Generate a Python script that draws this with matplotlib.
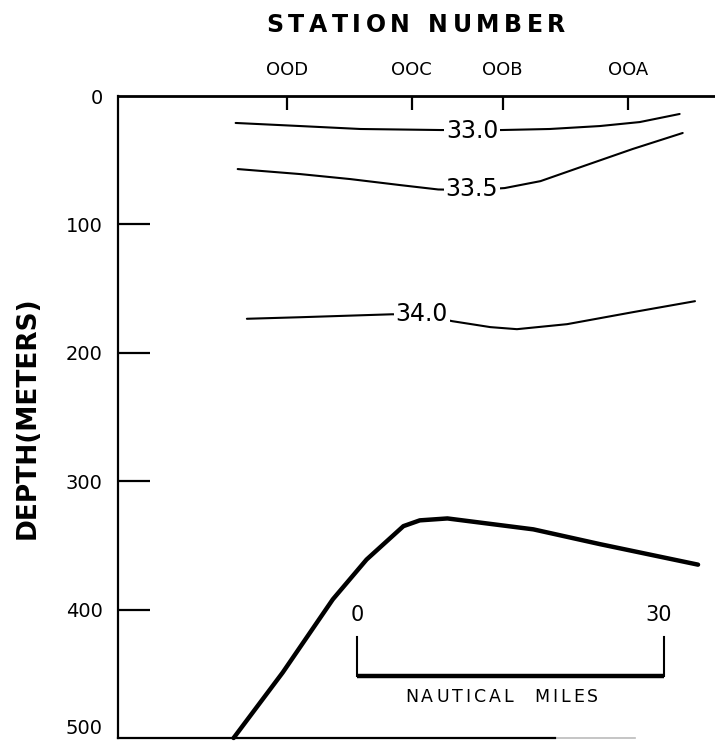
import matplotlib
matplotlib.use("Agg")
import matplotlib.pyplot as plt

# ---------------- data (x: nautical miles from left edge, y: depth in m) ----
stations = ["OOD", "OOC", "OOB", "OOA"]
station_x = [16.5, 28.7, 37.6, 49.9]

depth_ticks = [0, 100, 200, 300, 400, 500]

c330_x = [11.5, 17.8, 23.7, 31.5, 37.5, 42.2, 47.1, 51.0, 54.9]
c330_d = [21.0, 23.4, 25.7, 26.5, 26.5, 25.7, 23.4, 20.3, 14.0]

c335_x = [11.7, 17.8, 22.7, 27.6, 31.3, 34.6, 37.8, 41.3, 45.5, 50.3, 55.2]
c335_d = [56.9, 60.8, 64.7, 69.4, 72.8, 73.3, 71.7, 66.3, 54.6, 41.3, 28.8]

c340_x = [12.6, 17.8, 26.8, 29.7, 32.7, 36.4, 39.0, 43.9, 50.3, 56.4]
c340_d = [173.5, 172.3, 170.0, 170.5, 175.4, 180.0, 181.6, 177.7, 168.4, 159.8]

bottom_x = [11.3, 16.1, 21.0, 24.3, 27.9, 29.5, 32.2, 40.6, 47.1, 56.7]
bottom_d = [500, 449, 392, 361, 335, 330.5, 329, 337.5, 349, 365]

contour_labels = ["33.0", "33.5", "34.0"]
label_x = [34.6, 34.6, 29.7]
label_d = [27.3, 72.8, 170.0]

scale_start = 23.4
scale_len = 30
scale_labels = ["0", "30"]

title_text = "STATION NUMBER"
ylabel_text = "DEPTH(METERS)"
scale_text = "NAUTICAL  MILES"

# ---------------- figure ----------------------------------------------------
W, H = 715, 743
fig = plt.figure(figsize=(W / 100, H / 100), dpi=100)
plt.rcParams['font.family'] = ['DejaVu Sans']

ax = fig.add_axes([118 / W, 1 - 738 / H, (715 - 118) / W, (738 - 96) / H])
ax.set_xlim(0, (715 - 118) / 10.23)
ax.set_ylim(500, 0)

ax.spines["right"].set_visible(False)
ax.spines["top"].set_linewidth(2.0)
ax.spines["left"].set_linewidth(1.6)
ax.spines["bottom"].set_linewidth(1.6)
ax.spines["bottom"].set_bounds(0, 42.7)
ax.plot([42.7, 50.5], [500, 500], color="#bbbbbb", lw=1.2, clip_on=False)

# station ticks on top
ax.xaxis.tick_top()
ax.set_xticks(station_x)
ax.set_xticklabels(stations, fontsize=13)
ax.tick_params(axis="x", direction="in", length=10, width=1.6, pad=12)

# depth ticks
ax.set_yticks(depth_ticks)
ax.set_yticklabels([str(v) for v in depth_ticks], fontsize=14)
ax.tick_params(axis="y", direction="in", length=23, width=1.6, pad=11)
yt = ax.yaxis.get_major_ticks()
yt[0].tick1line.set_visible(False)
yt[-1].tick1line.set_visible(False)
ax.get_yticklabels()[-1].set_verticalalignment("bottom")

# contour lines
ax.plot(c330_x, c330_d, color="black", lw=1.5, solid_capstyle="round")
ax.plot(c335_x, c335_d, color="black", lw=1.5, solid_capstyle="round")
ax.plot(c340_x, c340_d, color="black", lw=1.5, solid_capstyle="round")
for t, x, d in zip(contour_labels, label_x, label_d):
    ax.text(x, d, t, fontsize=17, ha="center", va="center",
            bbox=dict(fc="white", ec="none", pad=1.5))

# sea floor
ax.plot(bottom_x, bottom_d, color="black", lw=3.2, solid_capstyle="round",
        clip_on=False)

# scale bar
x0, x1 = scale_start, scale_start + scale_len
ax.plot([x0, x0], [421, 452], color="black", lw=1.5)
ax.plot([x1, x1], [421, 452], color="black", lw=1.5)
ax.plot([x0, x1], [452, 452], color="black", lw=3.2, solid_capstyle="butt")
ax.text(x0, 404, scale_labels[0], fontsize=15, ha="center", va="center")
ax.text(x1 - 0.6, 404, scale_labels[1], fontsize=15, ha="center", va="center")

# y label
fig.text(28 / W, 1 - 418 / H, ylabel_text, rotation=90, fontsize=19,
         fontweight="bold", ha="center", va="center")


def spaced_text(s, cx, baseline, track, **kw):
    """Draw text with extra letter spacing; cx, baseline in px (from top)."""
    r = fig.canvas.get_renderer()
    widths = []
    for ch in s:
        t = fig.text(0, 0, "n" if ch == " " else ch, **kw)
        w = t.get_window_extent(r).width
        t.remove()
        widths.append(w * 0.55 if ch == " " else w)
    total = sum(widths) + track * (len(s) - 1)
    x = cx - total / 2
    for ch, w in zip(s, widths):
        if ch != " ":
            fig.text(x / W, 1 - baseline / H, ch, ha="left", va="baseline", **kw)
        x += w + track


spaced_text(title_text, 416, 32, 4.5, fontsize=17, fontweight="bold")
x_px_center = 118 + 37.5 * 10.23
spaced_text(scale_text, x_px_center, 702, 3.0, fontsize=12.5)

fig.savefig("out.png", dpi=100, facecolor="white")
